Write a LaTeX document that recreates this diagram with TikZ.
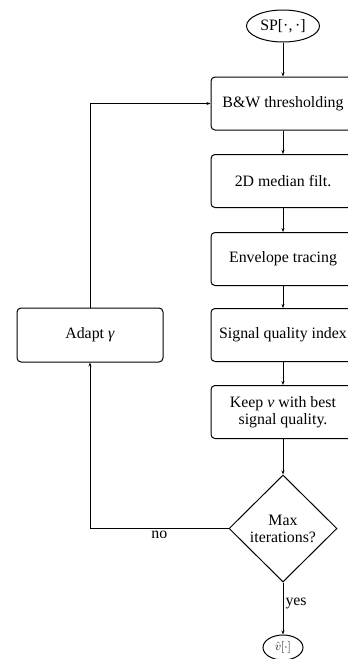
\documentclass[tikz,border=0pt]{standalone}
\usepackage[no-math]{fontspec}
\setmainfont{Liberation Serif}
\usetikzlibrary{shapes.geometric,arrows.meta}
\begin{document}
\begin{tikzpicture}[x=1pt,y=-1pt,
  every node/.style={font=\fontsize{15.85}{17}\selectfont},
  box/.style={draw, line width=1pt, rounded corners=4pt, minimum width=144pt, minimum height=53pt, align=center, inner sep=0pt},
  term/.style={draw, line width=1pt, ellipse, inner sep=0pt},
  decision/.style={draw, line width=1pt, diamond, minimum width=108pt, minimum height=107pt, inner sep=0pt, align=center},
  arr/.style={line width=1pt, -{Stealth[length=4pt,width=3pt]}},
  lbl/.style={inner sep=2pt}
]
\useasboundingbox (0,0) rectangle (348,659);
\node[term, minimum width=73pt, minimum height=32pt] (sp) at (283,26) {SP[·,\,·]};
\node[box] (bw) at (283,103.5) {B\&W thresholding};
\node[box] (med) at (283,181) {2D median filt.};
\node[box] (env) at (283,259) {Envelope tracing};
\node[box] (sqi) at (283,335) {Signal quality index};
\node[box] (keep) at (283,412) {Keep \textit{v} with best\\signal quality.};
\node[decision] (dec) at (283,528.5) {Max\\iterations?};
\node[term, minimum width=40pt, minimum height=25pt, font=\fontsize{13}{15}\selectfont] (out) at (283,647.5) {$\hat{v}[\cdot]$};
\node[box, minimum width=146pt, minimum height=54pt] (adapt) at (90,335) {Adapt \textit{γ}};

\draw[arr] (sp) -- (bw);
\draw[arr] (bw) -- (med);
\draw[arr] (med) -- (env);
\draw[arr] (env) -- (sqi);
\draw[arr] (sqi) -- (keep);
\draw[arr] (keep) -- (dec);
\draw[arr] (dec.south) -- node[lbl, right, pos=0.4] {yes} (out.north);
\draw[arr] (dec.west) -- node[lbl, below] {no} (dec.west -| adapt.south) -- (adapt.south);
\draw[arr] (adapt.north) |- (bw.west);
\end{tikzpicture}
\end{document}
